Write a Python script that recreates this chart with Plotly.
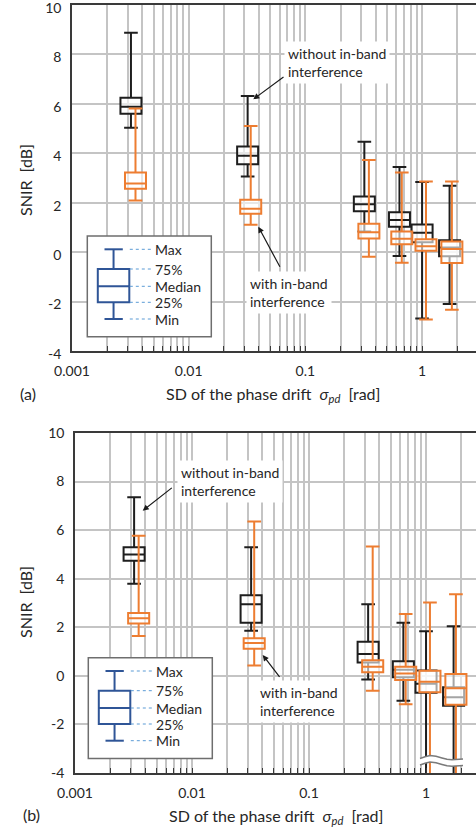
import plotly.graph_objects as go

W, H = 476, 830

# ---------------- data ----------------
pos_black = [0.0032, 0.032, 0.32, 0.64, 1.0, 1.72]
pos_orange = [0.0035, 0.034, 0.35, 0.67, 1.08, 1.80]

# panel (a)
a_black_max = [8.88, 6.32, 4.47, 3.45, 2.84, 2.69]
a_black_q3 = [6.25, 4.27, 2.25, 1.61, 1.12, 0.48]
a_black_med = [5.88, 3.90, 1.94, 1.30, 0.78, 0.19]
a_black_q1 = [5.60, 3.56, 1.65, 1.03, 0.40, -0.17]
a_black_min = [5.03, 3.06, 0.84, -0.16, -2.69, -2.10]

a_orange_max = [5.81, 5.10, 3.73, 3.22, 2.86, 2.86]
a_orange_q3 = [3.22, 2.12, 1.15, 0.84, 0.52, 0.43]
a_orange_med = [2.78, 1.76, 0.80, 0.54, 0.24, 0.13]
a_orange_q1 = [2.56, 1.55, 0.55, 0.32, 0.06, -0.44]
a_orange_min = [2.09, 1.11, -0.19, -0.43, -2.73, -2.33]

# panel (b)  (min of last two boxes lies below the axis)
b_black_max = [7.35, 5.30, 2.95, 2.19, 1.84, 2.04]
b_black_q3 = [5.30, 3.32, 1.40, 0.60, 0.22, -0.47]
b_black_med = [5.00, 2.95, 0.90, 0.25, -0.32, -0.88]
b_black_q1 = [4.74, 2.19, 0.55, -0.06, -0.70, -1.23]
b_black_min = [3.79, 1.86, -0.15, -1.03, -6.0, -6.0]

b_orange_max = [5.77, 6.36, 5.33, 2.55, 3.02, 3.36]
b_orange_q3 = [2.59, 1.55, 0.64, 0.38, 0.21, 0.08]
b_orange_med = [2.37, 1.35, 0.38, 0.10, -0.24, -0.51]
b_orange_q1 = [2.16, 1.12, 0.15, -0.17, -0.68, -1.19]
b_orange_min = [1.64, 0.43, -0.61, -1.17, -6.0, -6.0]

x_tickvals = [0.001, 0.01, 0.1, 1]
x_ticktext = ["0.001", "0.01", "0.1", "1"]
x_minor = [k * 10.0 ** d for d in range(-3, 1) for k in range(2, 10)]
y_tickvals = [-4, -2, 0, 2, 4, 6, 8, 10]
y_ticktext = ["-4", "-2", "0", "2", "4", "6", "8", "10"]
legend_labels = ["Max", "75%", "Median", "25%", "Min"]

# ---------------- style ----------------
FONT = "Lato"
BLACK = "#1e1e1e"
ORANGE = "#ed7d31"
GRID = "#c4c4c4"
AXIS = "#3a3a3a"
TXT = "#262626"
BLUE = "#2f5597"
LBLUE = "#5b9bd5"
FILL = "rgba(255,255,255,0.6)"
BOXW = 0.18


def px(x):
    return x / W


def py(y):
    return 1 - y / H


fig = go.Figure()


def add_box(xax, yax, pos, q1, med, q3, lo, hi, color):
    fig.add_trace(go.Box(
        x=pos, q1=q1, median=med, q3=q3, lowerfence=lo, upperfence=hi,
        xaxis=xax, yaxis=yax, width=BOXW, whiskerwidth=0.65,
        line=dict(color=color, width=2), fillcolor=FILL,
        boxpoints=False, showlegend=False, hoverinfo="skip"))


add_box("x", "y", pos_black, a_black_q1, a_black_med, a_black_q3, a_black_min, a_black_max, BLACK)
add_box("x", "y", pos_orange, a_orange_q1, a_orange_med, a_orange_q3, a_orange_min, a_orange_max, ORANGE)
add_box("x2", "y2", pos_black, b_black_q1, b_black_med, b_black_q3, b_black_min, b_black_max, BLACK)
add_box("x2", "y2", pos_orange, b_orange_q1, b_orange_med, b_orange_q3, b_orange_min, b_orange_max, ORANGE)


def xaxis(dom_left, rng_hi, anchor):
    return dict(
        type="log", range=[-3, rng_hi], domain=[dom_left, 1], anchor=anchor,
        tickvals=x_tickvals, ticktext=x_ticktext, automargin=False,
        ticklabeloverflow="allow",
        ticks="inside", ticklen=5, tickwidth=1, tickcolor=AXIS,
        showgrid=True, gridcolor=GRID, gridwidth=1.5,
        minor=dict(tickmode="array", tickvals=x_minor, ticks="inside", ticklen=5,
                   tickwidth=1, tickcolor=AXIS, showgrid=True, gridcolor=GRID, gridwidth=1.5),
        showline=True, linecolor=AXIS, linewidth=1.5, mirror=True,
        zeroline=False, ticklabelstandoff=6,
        tickfont=dict(family=FONT, size=14, color=TXT))


def yaxis(dom, anchor, shift=0):
    return dict(
        range=[-4, 10], domain=dom, anchor=anchor, automargin=False,
        ticklabeloverflow="allow", ticklabelshift=shift,
        tickvals=y_tickvals, ticktext=y_ticktext, ticks="",
        showgrid=True, gridcolor=GRID, gridwidth=1.5,
        showline=True, linecolor=AXIS, linewidth=1.5,
        zeroline=False, ticklabelstandoff=6,
        tickfont=dict(family=FONT, size=14, color=TXT))


fig.update_layout(
    width=W, height=H, margin=dict(l=0, r=0, t=0, b=0, pad=0, autoexpand=False),
    paper_bgcolor="white", plot_bgcolor="white",
    boxmode="overlay", showlegend=False,
    font=dict(family=FONT, size=14, color=TXT),
    xaxis=xaxis(px(72), 0.462, "y"),
    yaxis=yaxis([py(351), py(5)], "x", shift=3),
    xaxis2=xaxis(px(75), 0.427, "y2"),
    yaxis2=yaxis([py(773), py(433)], "x2"),
)

ann = []
shapes = []

# axis titles and panel labels
xtitle = "SD of the phase drift&nbsp;&nbsp;<i>σ</i><sub><i>pd</i></sub>&nbsp;&nbsp;[rad]"
for (ytc, xtc, xty, lab, labx) in [(180, 273, 393, "(a)", 28), (602, 276, 814, "(b)", 31)]:
    ann.append(dict(text="SNIR&nbsp;&nbsp;[dB]", x=px(25), y=py(ytc), xref="paper", yref="paper",
                    xanchor="center", yanchor="middle",
                    textangle=-90, showarrow=False, font=dict(size=16, family=FONT, color=TXT)))
    ann.append(dict(text=xtitle, x=px(xtc), y=py(xty + 2), xref="paper", yref="paper",
                    xanchor="center", yanchor="middle",
                    showarrow=False, font=dict(size=16, family=FONT, color=TXT)))
    ann.append(dict(text=lab, x=px(labx), y=py(xty), xref="paper", yref="paper",
                    xanchor="center", yanchor="middle",
                    showarrow=False, font=dict(size=16, family=FONT, color=TXT)))

# callout texts
for (tx, ty, t) in [(284, 62.8, "without in-band<br>interference"),
                    (246, 292, "with in-band<br>interference"),
                    (177, 481.7, "without in-band<br>interference"),
                    (256, 701.7, "with in-band<br>interference")]:
    ann.append(dict(text=t, x=px(tx), y=py(ty), xref="paper", yref="paper",
                    xanchor="left", yanchor="middle", align="left", showarrow=False,
                    bgcolor="white", borderpad=3, font=dict(size=14, family=FONT, color=TXT)))

# arrows (tip, tail offsets)
for (tipx, tipy, tailx, taily) in [(253.3, 99.3, 285, 76), (258.3, 226.7, 280.7, 268.3),
                                   (142.7, 510.7, 173.3, 486.7), (262.7, 655, 280.7, 678.3)]:
    ann.append(dict(text="", x=px(tipx), y=py(tipy), xref="paper", yref="paper",
                    ax=tailx - tipx, ay=taily - tipy, showarrow=True, arrowhead=2,
                    arrowsize=1, arrowwidth=1.2, arrowcolor="#1a1a1a"))

# legend boxes
for (ox, oy) in [(87.3, 236), (88.3, 657.7)]:
    shapes.append(dict(type="rect", xref="paper", yref="paper",
                       x0=px(ox), x1=px(ox + 124), y0=py(oy), y1=py(oy + 100.7),
                       line=dict(color="#6e6e6e", width=1.5), fillcolor="white", layer="above"))
    ly = [13.3, 33, 50.3, 66.3, 83]
    bx0, bx1, cx0, cx1 = 10.5, 42, 17.2, 35.5
    cxm = (bx0 + bx1) / 2
    shapes.append(dict(type="rect", xref="paper", yref="paper",
                       x0=px(ox + bx0), x1=px(ox + bx1), y0=py(oy + ly[1]), y1=py(oy + ly[3]),
                       line=dict(color=BLUE, width=2), fillcolor="white", layer="above"))
    for (x0, x1, yy) in [(bx0, bx1, ly[2]), (cx0, cx1, ly[0]), (cx0, cx1, ly[4])]:
        shapes.append(dict(type="line", xref="paper", yref="paper",
                           x0=px(ox + x0), x1=px(ox + x1), y0=py(oy + yy), y1=py(oy + yy),
                           line=dict(color=BLUE, width=2), layer="above"))
    for (ya, yb) in [(ly[0], ly[1]), (ly[3], ly[4])]:
        shapes.append(dict(type="line", xref="paper", yref="paper",
                           x0=px(ox + cxm), x1=px(ox + cxm), y0=py(oy + ya), y1=py(oy + yb),
                           line=dict(color=BLUE, width=2), layer="above"))
    for i, lab in enumerate(legend_labels):
        shapes.append(dict(type="line", xref="paper", yref="paper",
                           x0=px(ox + 42.5), x1=px(ox + 64), y0=py(oy + ly[i]), y1=py(oy + ly[i]),
                           line=dict(color=LBLUE, width=1, dash="dot"), layer="above"))
        ann.append(dict(text=lab, x=px(ox + 65.5), y=py(oy + ly[i]), xref="paper", yref="paper",
                        xanchor="left", yanchor="middle", showarrow=False,
                        font=dict(size=14, family=FONT, color=TXT)))


# axis break mark in panel (b)
def wave(y0, x0=420, x1=463):
    xs = [x0, x0 + 5, x0 + 10, x0 + 16, x0 + 22, x0 + 27, x0 + 32, x1]
    ys = [y0 + 2, y0 + 0.2, y0 - 1.0, y0 - 0.2, y0 + 1.5, y0 + 2.8, y0 + 3.2, y0 + 2.6]
    return xs, ys


tx, ty = wave(756.5)
bx, by = wave(763)
fillpath = "M {},{} ".format(px(tx[0]), py(ty[0]))
for X, Y in zip(tx[1:], ty[1:]):
    fillpath += "L {},{} ".format(px(X), py(Y))
for X, Y in zip(bx[::-1], by[::-1]):
    fillpath += "L {},{} ".format(px(X), py(Y))
fillpath += "Z"
shapes.append(dict(type="path", xref="paper", yref="paper", path=fillpath,
                   fillcolor="white", line=dict(width=0), layer="above"))
for (xs, ys) in [(tx, ty), (bx, by)]:
    p = "M {},{} ".format(px(xs[0]), py(ys[0]))
    for X, Y in zip(xs[1:], ys[1:]):
        p += "L {},{} ".format(px(X), py(Y))
    shapes.append(dict(type="path", xref="paper", yref="paper", path=p,
                       line=dict(color="#7a7a7a", width=1.5), layer="above"))

fig.update_layout(annotations=ann, shapes=shapes)
fig.write_html("out.html", config={"displayModeBar": False},
               post_script="document.body.style.margin='0px';")
